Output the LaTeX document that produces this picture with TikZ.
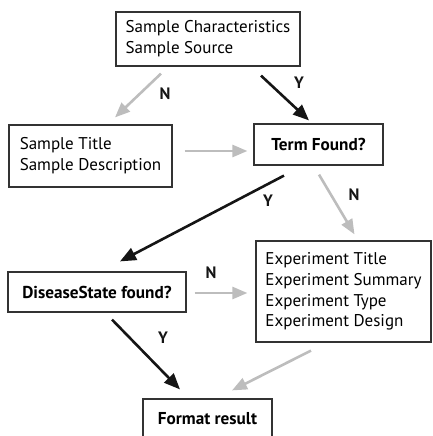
\documentclass[tikz,border=0pt]{standalone}
\usepackage{fontspec}
\setmainfont{PT Sans}
\usetikzlibrary{arrows.meta,calc,positioning}
\definecolor{ink}{HTML}{151515}
\definecolor{frame}{HTML}{333333}
\definecolor{muted}{HTML}{BDBDBD}

\begin{document}
\begin{tikzpicture}[x=1pt,y=-1pt,
  box/.style={draw=frame,line width=1.2pt,inner sep=0pt,font=\fontsize{17}{20.8}\selectfont},
  list/.style={box,align=left},
  ask/.style={box,align=center,font=\fontsize{17.2}{20.8}\selectfont\bfseries},
  yes/.style={-{Triangle[length=16pt,width=13pt]},ink,line width=2.6pt},
  no/.style={-{Triangle[length=15pt,width=12pt]},muted,line width=2.6pt},
  lbl/.style={text=ink,font=\fontsize{16.5}{17}\selectfont\bfseries}]
\useasboundingbox (0,0) rectangle (432,436);
\node[list,minimum width=184pt,minimum height=54pt] (chars) at (208,39)
  {Sample Characteristics\\Sample Source};
\node[list,minimum width=163pt,minimum height=62pt] (title) at (90.5,156)
  {Sample Title\\Sample Description};
\node[ask,minimum width=129pt,minimum height=41pt] (term) at (318.5,144.5) {Term Found?};
\node[list,minimum width=175pt,minimum height=101pt] (expt) at (343.5,291.5)
  {Experiment Title\\Experiment Summary\\Experiment Type\\Experiment Design};
\node[ask,minimum width=178pt,minimum height=40pt] (disease) at (97,292) {DiseaseState found?};
\node[ask,minimum width=129pt,minimum height=40pt] (format) at (207.5,419) {Format result};

\draw[no] ([xshift=-47pt,yshift=-7pt]chars.south) -- ([xshift=24.5pt,yshift=7pt]title.north);
\draw[yes] ([xshift=53pt,yshift=-9pt]chars.south) -- ([xshift=-9.5pt,yshift=3pt]term.north);
\draw[no] ([xshift=12pt,yshift=5pt]title.east) -- ([xshift=-6pt,yshift=-6.5pt]term.west);
\draw[yes] ([xshift=-34.5pt,yshift=-10pt]term.south) -- ([xshift=23pt,yshift=10pt]disease.north);
\draw[no] ([xshift=0.5pt,yshift=-9pt]term.south) -- ([xshift=11pt,yshift=6pt]expt.north);
\draw[no] ([xshift=8pt,yshift=-1pt]disease.east) -- ([xshift=-8pt,yshift=-1.5pt]expt.west);
\draw[yes] ([xshift=15pt,yshift=-7pt]disease.south) -- ([xshift=-27.5pt,yshift=9pt]format.north);
\draw[no] ([xshift=-32.5pt,yshift=-8pt]expt.south) -- ([xshift=24.5pt,yshift=8pt]format.north);

\node[lbl] (n1) at (165,94) {N};
\node[lbl] (y1) at (299,83) {Y};
\node[lbl] (y2) at (268,201) {Y};
\node[lbl] (n2) at (354,195) {N};
\node[lbl] (n3) at (211,273) {N};
\node[lbl] (y3) at (163,338) {Y};
\end{tikzpicture}
\end{document}
